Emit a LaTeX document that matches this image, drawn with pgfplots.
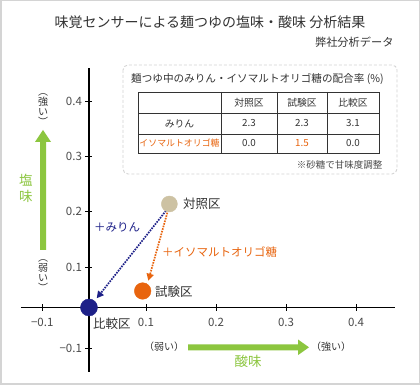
\documentclass[border=0pt]{standalone}
\usepackage{fontspec}
\setmainfont{Noto Sans CJK JP}
\usepackage{pgfplots}
\pgfplotsset{compat=1.18}
\usetikzlibrary{arrows.meta}
\definecolor{navy}{HTML}{1D2088}
\definecolor{orng}{HTML}{E8640E}
\definecolor{beige}{HTML}{CDC2A3}
\definecolor{lgreen}{HTML}{8CC63F}
\definecolor{txt}{HTML}{333333}
\definecolor{tickgray}{HTML}{4A4A4A}
\definecolor{framegray}{HTML}{D4D4D4}
\begin{document}
\begin{tikzpicture}
\fill[white] (0,0) rectangle (420pt,385pt);
\draw[framegray, line width=1.5pt] (0.75pt,0.75pt) rectangle (419.25pt,384.25pt);
\begin{axis}[
  at={(21pt,13pt)}, anchor=south west,
  scale only axis, width=374pt, height=304pt,
  xmin=-0.0971, xmax=0.4371, ymin=-0.1173, ymax=0.4355,
  axis lines=middle,
  axis line style={-, line width=1.4pt, black},
  xtick={-0.0667,0.0814,0.1814,0.2814,0.3814},
  xticklabels={−0.1,0.1,0.2,0.3,0.4},
  ytick={-0.0736,0.0736,0.1745,0.2755,0.3742},
  yticklabels={−0.1,0.1,0.2,0.3,0.4},
  tick align=center, major tick length=7pt,
  tick style={black, line width=0.8pt},
  ticklabel style={font=\fontsize{11.5}{11.5}\selectfont, text=tickgray},
  xticklabel style={yshift=-3.5pt},
  clip=false,
]
\draw[navy, line width=1.7pt, dash pattern=on 1.6pt off 1.1pt, -{Triangle[length=7pt,width=7pt,sep=0pt]}]
  (axis cs:0.110,0.176) -- (axis cs:0.011,0.0167);
\draw[orng, line width=1.7pt, dash pattern=on 1.6pt off 1.1pt, -{Triangle[length=7pt,width=7pt,sep=0pt]}]
  (axis cs:0.1119,0.1724) -- (axis cs:0.0847,0.0487);
\addplot[only marks, mark=*, mark size=8.5pt, mark options={draw=navy, fill=navy}] coordinates {(0,0)};
\addplot[only marks, mark=*, mark size=8.3pt, mark options={draw=orng, fill=orng}] coordinates {(0.0767,0.030)};
\addplot[only marks, mark=*, mark size=8pt, mark options={draw=beige, fill=beige}] coordinates {(0.1148,0.1882)};
\end{axis}
\begin{scope}[x=1pt,y=-1pt,shift={(0pt,385pt)}]
% titles
\node[txt, font=\fontsize{14}{14}\selectfont] at (210,22) {味覚センサーによる麺つゆの塩味・酸味 分析結果};
\node[txt, anchor=east, font=\fontsize{11.2}{11.2}\selectfont] at (397,42) {弊社分析データ};
% table box
\draw[framegray, line width=0.9pt, dash pattern=on 3pt off 2pt, rounded corners=5pt] (123,65) rectangle (397,174);
\node[txt, anchor=west, font=\fontsize{10.6}{10.6}\selectfont, inner sep=0pt] at (131,79) {麺つゆ中のみりん・イソマルトオリゴ糖の配合率 (\%)};
\draw[txt, line width=0.9pt] (138,92) rectangle (379,153);
\draw[txt, line width=0.9pt] (138,113) -- (379,113) (138,134) -- (379,134)
  (221,92) -- (221,153) (277,92) -- (277,153) (327,92) -- (327,153);
\begin{scope}[every node/.style={font=\fontsize{9.8}{9.8}\selectfont, text=txt}]
\node at (249,102.5) {対照区};
\node at (302,102.5) {試験区};
\node at (353,102.5) {比較区};
\node at (179.5,123.5) {みりん};
\node at (249,123.5) {2.3};
\node at (302,123.5) {2.3};
\node at (353,123.5) {3.1};
\node[text=orng, font=\fontsize{8.9}{8.9}\selectfont] at (179.5,143.5) {イソマルトオリゴ糖};
\node at (249,143.5) {0.0};
\node[text=orng] at (302,143.5) {1.5};
\node at (353,143.5) {0.0};
\end{scope}
\node[tickgray, anchor=east, font=\fontsize{9.5}{9.5}\selectfont] at (386,165) {※砂糖で甘味度調整};
% point labels
\node[txt, anchor=west, font=\fontsize{12.5}{12.5}\selectfont, inner sep=0pt] at (183,204) {対照区};
\node[txt, anchor=west, font=\fontsize{12.5}{12.5}\selectfont, inner sep=0pt] at (155,292) {試験区};
\node[txt, anchor=west, font=\fontsize{12.5}{12.5}\selectfont, inner sep=0pt] at (93,324) {比較区};
\node[navy, anchor=west, font=\fontsize{11.5}{11.5}\selectfont, inner sep=0pt] at (94,227) {＋みりん};
\node[orng, anchor=west, font=\fontsize{11.5}{11.5}\selectfont, inner sep=0pt] at (162,252) {＋イソマルトオリゴ糖};
% green arrows
\fill[lgreen] (40,250) -- (46,250) -- (46,142) -- (51,142) -- (43,130) -- (35,142) -- (40,142) -- cycle;
\fill[lgreen] (188,344.3) -- (298,344.3) -- (298,339.5) -- (309,347.3) -- (298,355.1) -- (298,350.3) -- (188,350.3) -- cycle;
\node[lgreen, align=center, font=\fontsize{13.5}{16}\selectfont] at (26,188.5) {塩\\味};
\node[lgreen, font=\fontsize{13.5}{13.5}\selectfont] at (248,361) {酸味};
\node[txt, align=center, font=\fontsize{10}{10}\selectfont, inner sep=0pt] at (43,110) {︵\\強\\い\\︶};
\node[txt, align=center, font=\fontsize{10}{10}\selectfont, inner sep=0pt] at (43,276) {︵\\弱\\い\\︶};
\node[txt, font=\fontsize{10}{10}\selectfont] at (164,347) {（弱い）};
\node[txt, font=\fontsize{10}{10}\selectfont] at (331,347) {（強い）};
\end{scope}
\end{tikzpicture}
\end{document}
